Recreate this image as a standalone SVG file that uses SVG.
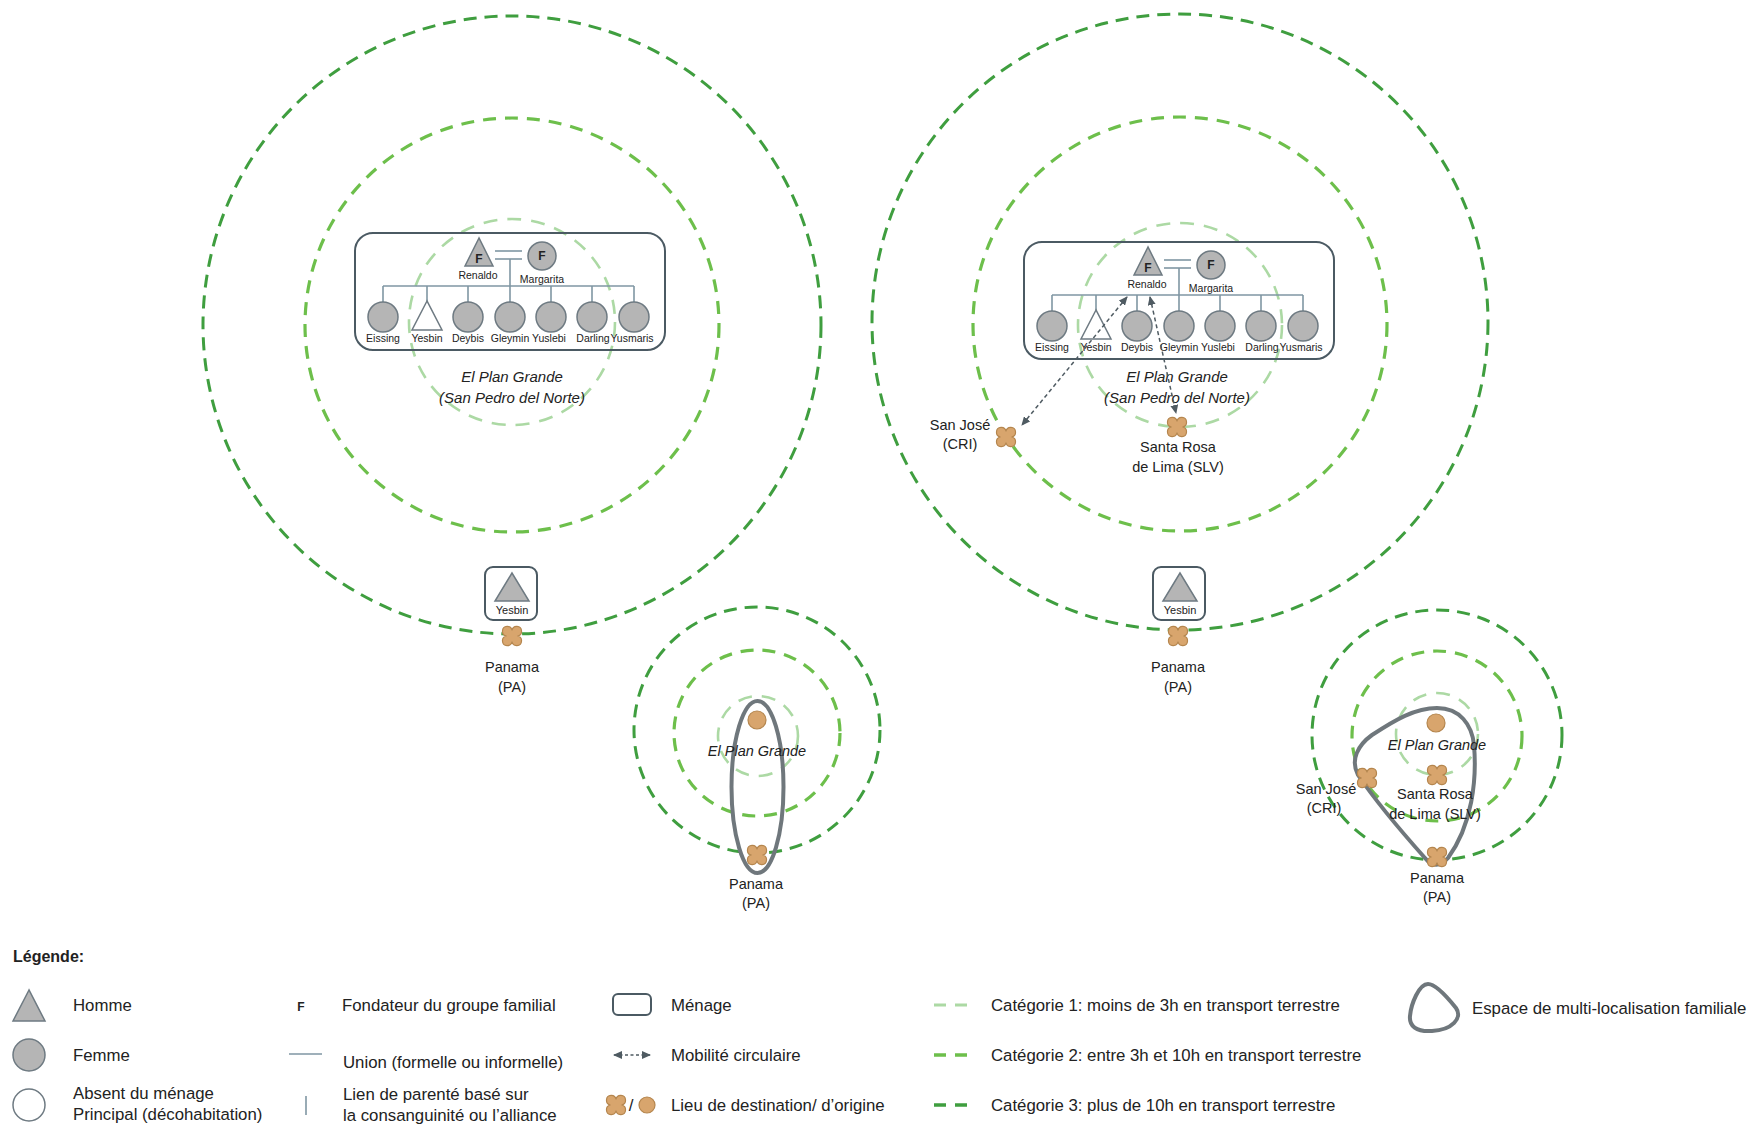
<svg xmlns="http://www.w3.org/2000/svg" xmlns:xlink="http://www.w3.org/1999/xlink" width="1754" height="1126" viewBox="0 0 1754 1126">
<style>
text{font-family:"Liberation Sans",Arial,sans-serif;fill:#222}
.c1{fill:none;stroke:#acd9a4;stroke-width:2.6;stroke-dasharray:14 10}
.c2{fill:none;stroke:#6dbf4b;stroke-width:3.2;stroke-dasharray:13 9}
.c3{fill:none;stroke:#3f9e3f;stroke-width:3;stroke-dasharray:13 8}
.box{fill:none;stroke:#4b5a63;stroke-width:2}
.ln{stroke:#7f96a3;stroke-width:1.6;fill:none}
.p{fill:#b5b5b5;stroke:#6e7a82;stroke-width:1.5}
.pw{fill:#fff;stroke:#6e7a82;stroke-width:1.5}
.nm{font-size:10.5px;text-anchor:middle}
.F{font-size:12px;font-weight:bold;text-anchor:middle}
.pl{font-size:14.5px;text-anchor:middle}
.it{font-size:15px;font-style:italic;text-anchor:middle}
.lg{font-size:16.8px}
.org{fill:#d8a56d;stroke:#b5864e;stroke-width:1.2}
.blob{fill:none;stroke:#6f777c;stroke-width:4}
.arr{stroke:#4f5b62;stroke-width:1.5;stroke-dasharray:4 3;fill:none;marker-start:url(#ah);marker-end:url(#ah)}
</style>
<defs>
<marker id="ah" markerUnits="userSpaceOnUse" markerWidth="9" markerHeight="8" refX="8" refY="4" orient="auto-start-reverse">
<path d="M0,0 L9,4 L0,8 z" fill="#4f5b62"/>
</marker>
<path id="loc" class="org" d="M0,-5.5 A4.8,4.8 0 1 1 5.5,0 A4.8,4.8 0 1 1 0,5.5 A4.8,4.8 0 1 1 -5.5,0 A4.8,4.8 0 1 1 0,-5.5 Z"/>
<g id="tree">
<rect class="box" x="355" y="233" width="310" height="117" rx="18"/>
<line class="ln" x1="495" y1="251" x2="522" y2="251"/>
<line class="ln" x1="495" y1="259" x2="522" y2="259"/>
<line class="ln" x1="510" y1="259" x2="510" y2="302"/>
<line class="ln" x1="383" y1="286" x2="634" y2="286"/>
<line class="ln" x1="383" y1="286" x2="383" y2="302"/>
<line class="ln" x1="427" y1="286" x2="427" y2="301"/>
<line class="ln" x1="468" y1="286" x2="468" y2="302"/>
<line class="ln" x1="551" y1="286" x2="551" y2="302"/>
<line class="ln" x1="592" y1="286" x2="592" y2="302"/>
<line class="ln" x1="634" y1="286" x2="634" y2="302"/>
<polygon class="p" points="479,238 465,266 493,266"/>
<text class="F" x="479" y="263">F</text>
<circle class="p" cx="542" cy="256" r="14"/>
<text class="F" x="542" y="260">F</text>
<text class="nm" x="478" y="279">Renaldo</text>
<text class="nm" x="542" y="283">Margarita</text>
<circle class="p" cx="383" cy="317" r="15"/>
<polygon class="pw" points="427,301 412,330 442,330"/>
<circle class="p" cx="468" cy="317" r="15"/>
<circle class="p" cx="510" cy="317" r="15"/>
<circle class="p" cx="551" cy="317" r="15"/>
<circle class="p" cx="592" cy="317" r="15"/>
<circle class="p" cx="634" cy="317" r="15"/>
<text class="nm" x="383" y="342">Eissing</text>
<text class="nm" x="427" y="342">Yesbin</text>
<text class="nm" x="468" y="342">Deybis</text>
<text class="nm" x="510" y="342">Gleymin</text>
<text class="nm" x="549" y="342">Yuslebi</text>
<text class="nm" x="593" y="342">Darling</text>
<text class="nm" x="632" y="342">Yusmaris</text>
</g>
<g id="ybox">
<rect class="box" x="485" y="567" width="52" height="53" rx="8"/>
<polygon class="p" points="512,573 495,601 529,601"/>
<text x="512" y="614" style="font-size:11px;text-anchor:middle">Yesbin</text>
</g>
</defs>

<!-- left big system -->
<g id="zones-left">
<circle class="c3" cx="512" cy="325" r="309"/>
<circle class="c2" cx="512" cy="325" r="207"/>
<circle class="c1" cx="512" cy="322" r="103"/>
</g>
<g id="household-left"><use href="#tree"/></g>
<g id="place-left">
<text class="it" x="512" y="382">El Plan Grande</text>
<text class="it" x="512" y="403">(San Pedro del Norte)</text>
</g>
<g id="yesbin-left"><use href="#ybox"/></g>
<g id="panama-left">
<use href="#loc" x="512" y="636"/>
<text class="pl" x="512" y="672">Panama</text>
<text class="pl" x="512" y="692">(PA)</text>
</g>

<!-- right big system -->
<g id="zones-right">
<circle class="c3" cx="1180" cy="322" r="308"/>
<circle class="c2" cx="1180" cy="324" r="207"/>
<circle class="c1" cx="1180" cy="325" r="102"/>
</g>
<g id="household-right"><use href="#tree" transform="translate(669,9)"/></g>
<g id="place-right">
<text class="it" x="1177" y="382">El Plan Grande</text>
<text class="it" x="1177" y="403">(San Pedro del Norte)</text>
</g>
<g id="yesbin-right"><use href="#ybox" transform="translate(668,0)"/></g>
<g id="panama-right">
<use href="#loc" x="1178" y="636"/>
<text class="pl" x="1178" y="672">Panama</text>
<text class="pl" x="1178" y="692">(PA)</text>
</g>
<g id="sanjose-right">
<use href="#loc" x="1006" y="437"/>
<text class="pl" x="960" y="430">San José</text>
<text class="pl" x="960" y="449">(CRI)</text>
</g>
<g id="santarosa-right">
<use href="#loc" x="1177" y="427"/>
<text class="pl" x="1178" y="452">Santa Rosa</text>
<text class="pl" x="1178" y="472">de Lima (SLV)</text>
</g>
<g id="connectors">
<line class="arr" x1="1127" y1="297" x2="1022" y2="425"/>
<line class="arr" x1="1150" y1="297" x2="1176" y2="413"/>
</g>

<!-- small left system -->
<g id="mini-left">
<circle class="c3" cx="757" cy="730" r="123"/>
<circle class="c2" cx="757" cy="733" r="83"/>
<circle class="c1" cx="758" cy="736" r="40"/>
<ellipse class="blob" cx="757.5" cy="787" rx="26" ry="86"/>
<circle class="org" cx="757" cy="720" r="9"/>
<text class="it" x="757" y="756" style="font-size:14.5px">El Plan Grande</text>
<use href="#loc" x="757" y="855"/>
<text class="pl" x="756" y="889">Panama</text>
<text class="pl" x="756" y="908">(PA)</text>
</g>

<!-- small right system -->
<g id="mini-right">
<circle class="c3" cx="1437" cy="735" r="125"/>
<circle class="c2" cx="1437" cy="736" r="85"/>
<circle class="c1" cx="1437" cy="734" r="41"/>
<path class="blob" d="M1437,708 C1460,708 1472,725 1474,745 C1477,780 1472,825 1448,858 C1440,867 1432,867 1425,858 C1400,830 1375,800 1358,775 C1350,760 1358,745 1372,735 C1395,720 1415,708 1437,708 Z"/>
<circle class="org" cx="1436" cy="723" r="9"/>
<text class="it" x="1437" y="750" style="font-size:14.5px">El Plan Grande</text>
<use href="#loc" x="1437" y="775"/>
<text class="pl" x="1435" y="799">Santa Rosa</text>
<text class="pl" x="1435" y="819">de Lima (SLV)</text>
<use href="#loc" x="1367" y="778"/>
<text class="pl" x="1326" y="794">San José</text>
<text class="pl" x="1324" y="813">(CRI)</text>
<use href="#loc" x="1437" y="857"/>
<text class="pl" x="1437" y="883">Panama</text>
<text class="pl" x="1437" y="902">(PA)</text>
</g>

<!-- legend -->
<g id="legend">
<text x="13" y="962" style="font-size:16px;font-weight:bold">Légende:</text>
<polygon class="p" points="29,990 13,1021 45,1021"/>
<text class="lg" x="73" y="1011">Homme</text>
<circle class="p" cx="29" cy="1055" r="16"/>
<text class="lg" x="73" y="1061">Femme</text>
<circle class="pw" cx="29" cy="1105" r="16"/>
<text class="lg" x="73" y="1099">Absent du ménage</text>
<text class="lg" x="73" y="1120">Principal (décohabitation)</text>

<text x="301" y="1011" style="font-size:12px;font-weight:bold;text-anchor:middle">F</text>
<text class="lg" x="342" y="1011">Fondateur du groupe familial</text>
<line class="ln" x1="289" y1="1054" x2="322" y2="1054"/>
<text class="lg" x="343" y="1068">Union (formelle ou informelle)</text>
<line class="ln" x1="306" y1="1096" x2="306" y2="1115"/>
<text class="lg" x="343" y="1100">Lien de parenté basé sur</text>
<text class="lg" x="343" y="1121">la consanguinité ou l’alliance</text>

<rect class="box" x="613" y="994" width="38" height="21" rx="5"/>
<text class="lg" x="671" y="1011">Ménage</text>
<line class="arr" x1="614" y1="1055" x2="650" y2="1055" style="stroke-dasharray:3 2.5"/>
<text class="lg" x="671" y="1061">Mobilité circulaire</text>
<use href="#loc" x="616" y="1105"/>
<text x="631" y="1111" style="font-size:17px;text-anchor:middle">/</text>
<circle class="org" cx="647" cy="1105" r="8"/>
<text class="lg" x="671" y="1111">Lieu de destination/ d’origine</text>

<line x1="934" y1="1005" x2="969" y2="1005" style="stroke:#acd9a4;stroke-width:3;stroke-dasharray:12 9"/>
<text class="lg" x="991" y="1011">Catégorie 1: moins de 3h en transport terrestre</text>
<line x1="934" y1="1055" x2="969" y2="1055" style="stroke:#6dbf4b;stroke-width:3.5;stroke-dasharray:12 9"/>
<text class="lg" x="991" y="1061">Catégorie 2: entre 3h et 10h en transport terrestre</text>
<line x1="934" y1="1105" x2="969" y2="1105" style="stroke:#3f9e3f;stroke-width:3.5;stroke-dasharray:12 9"/>
<text class="lg" x="991" y="1111">Catégorie 3: plus de 10h en transport terrestre</text>

<path class="blob" d="M1428,984 C1436,984 1448,998 1456,1008 C1463,1018 1452,1030 1432,1031 C1416,1032 1409,1026 1410,1016 C1411,1004 1419,984 1428,984 Z"/>
<text class="lg" x="1472" y="1014">Espace de multi-localisation familiale</text>
</g>
</svg>
